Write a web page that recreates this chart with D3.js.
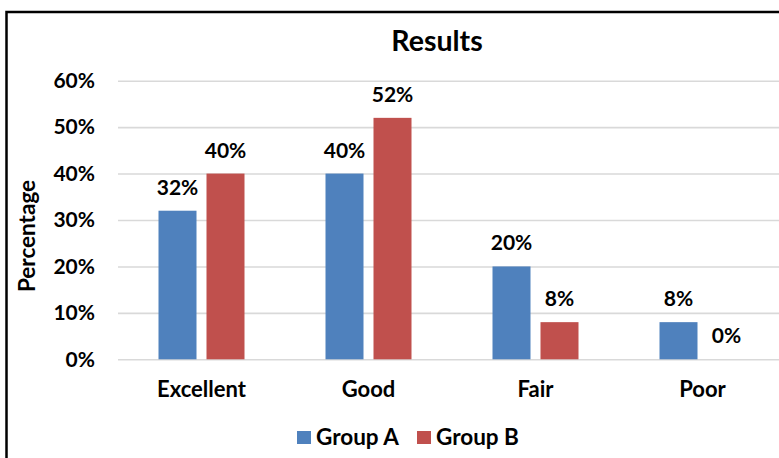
<!DOCTYPE html>
<html>
<head>
<meta charset="utf-8">
<script src="https://cdn.jsdelivr.net/npm/d3@7"></script>
<style>
  body { margin: 0; background: #fff; }
  text { font-family: Lato, "Open Sans", sans-serif; font-weight: bold; fill: #000; }
</style>
</head>
<body>
<div id="chart"></div>
<script>
// data
var categories = ["Excellent", "Good", "Fair", "Poor"];
var groups = ["Group A", "Group B"];
var groupA = [32, 40, 20, 8];
var groupB = [40, 52, 8, 0];
var yTicks = [0, 10, 20, 30, 40, 50, 60];
var colors = ["#4f81bd", "#c0504d"];

function drawResults(){
    var width = 779, height = 458;
    var plot = {left: 118, right: 786, top: 80.7, bottom: 359.3};

    var svg = d3.select("#chart").append("svg")
        .attr("width", width)
        .attr("height", height);

    // frame (right and bottom edges are cut off in the original)
    svg.append("rect")
        .attr("x", 6.5).attr("y", 12)
        .attr("width", 900).attr("height", 600)
        .attr("fill", "none")
        .attr("stroke", "#000")
        .attr("stroke-width", 2.5);

    // scales
    var x0 = d3.scaleBand()
        .domain(categories)
        .range([plot.left, plot.right]);
    var x1 = d3.scaleBand()
        .domain(groups)
        .range([x0.bandwidth()/2 - 43, x0.bandwidth()/2 + 43])
        .paddingInner(10/48);
    var y = d3.scaleLinear()
        .domain([0, 60])
        .range([plot.bottom, plot.top]);

    // gridlines + y labels
    var yAxis = svg.append("g")
        .attr("transform", "translate(" + plot.left + ",0)")
        .call(d3.axisLeft(y).tickValues(yTicks)
            .tickSize(-(width - plot.left))
            .tickPadding(23)
            .tickFormat(function(d) { return d + "%"; }));
    yAxis.select(".domain").remove();
    yAxis.selectAll(".tick line")
        .attr("stroke", "#d9d9d9")
        .attr("stroke-width", 1.6);
    yAxis.selectAll(".tick text")
        .attr("font-size", 21)
        .attr("font-family", "Lato")
        .attr("fill", "#000");

    // bars
    var rows = categories.map(function(c, i) {
        return {cat: c, values: [
            {key: groups[0], v: groupA[i], color: colors[0]},
            {key: groups[1], v: groupB[i], color: colors[1]}
        ]};
    });

    var cat = svg.selectAll(".cat")
        .data(rows)
        .enter().append("g")
        .attr("class", "cat")
        .attr("transform", function(d) { return "translate(" + x0(d.cat) + ",0)"; });

    cat.selectAll("rect")
        .data(function(d) { return d.values; })
        .enter().append("rect")
        .attr("x", function(d) { return x1(d.key); })
        .attr("width", x1.bandwidth())
        .attr("y", function(d) { return y(d.v); })
        .attr("height", function(d) { return y(0) - y(d.v); })
        .attr("fill", function(d) { return d.color; });

    // value labels
    cat.selectAll(".val")
        .data(function(d) { return d.values; })
        .enter().append("text")
        .attr("class", "val")
        .attr("text-anchor", "middle")
        .attr("font-size", 21)
        .attr("x", function(d) { return x1(d.key) + x1.bandwidth()/2; })
        .attr("y", function(d) { return y(d.v) - 16; })
        .text(function(d) { return d.v + "%"; });

    // category labels
    svg.selectAll(".catlabel")
        .data(categories)
        .enter().append("text")
        .attr("class", "catlabel")
        .attr("text-anchor", "middle")
        .attr("font-size", 22)
        .attr("x", function(d) { return x0(d) + x0.bandwidth()/2; })
        .attr("y", 397)
        .text(function(d) { return d; });

    // title
    svg.append("text")
        .attr("text-anchor", "middle")
        .attr("font-size", 28.5)
        .attr("x", 437)
        .attr("y", 51)
        .text("Results");

    // y label
    svg.append("text")
        .attr("text-anchor", "middle")
        .attr("font-size", 22.5)
        .attr("transform", "translate(35,236) rotate(-90)")
        .text("Percentage");

    // legend
    var legendX = [297, 417];
    var legend = svg.selectAll(".legend")
        .data(groups)
        .enter().append("g")
        .attr("class", "legend")
        .attr("transform", function(d, i) { return "translate(" + legendX[i] + ",431)"; });
    legend.append("rect")
        .attr("width", 14).attr("height", 13)
        .attr("fill", function(d, i) { return colors[i]; });
    legend.append("text")
        .attr("x", 19)
        .attr("y", 13.5)
        .attr("font-size", 22.5)
        .text(function(d) { return d; });
}

drawResults();
</script>
</body>
</html>
